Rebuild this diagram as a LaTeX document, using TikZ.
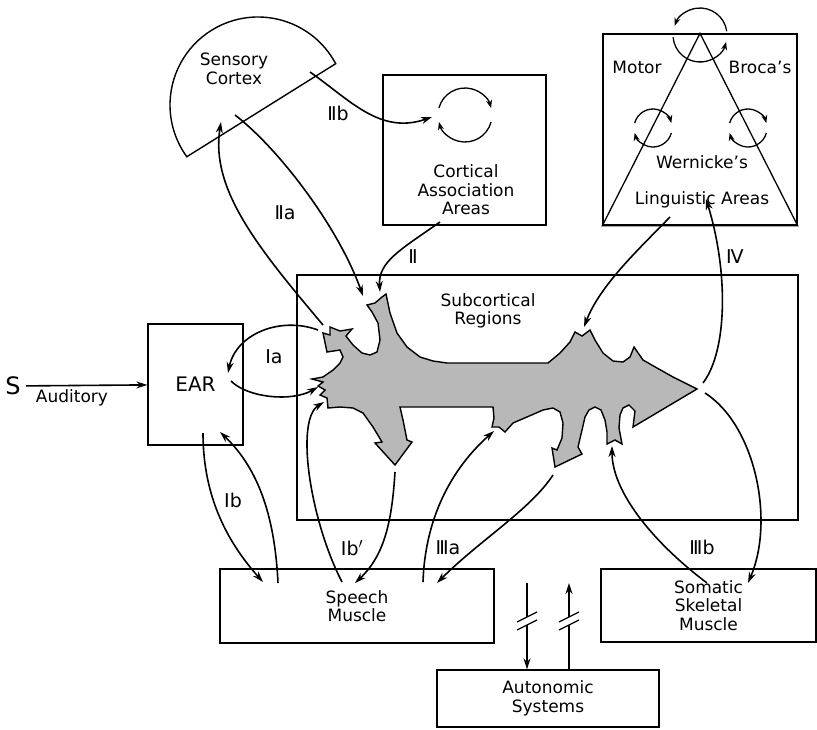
\documentclass[tikz,border=0pt]{standalone}
\usepackage{fontspec}
\setmainfont{DejaVu Sans}
\usetikzlibrary{arrows.meta}

\newcommand{\cwloop}[2]{%
  \draw[loopline] (#1) ++(-165:#2) arc[start angle=-165,end angle=-15,radius=#2];
  \draw[loopline] (#1) ++(15:#2) arc[start angle=15,end angle=165,radius=#2];}
\newcommand{\ccwloop}[2]{%
  \draw[loopline] (#1) ++(-8:#2) arc[start angle=-8,end angle=-160,radius=#2];
  \draw[loopline] (#1) ++(175:#2) arc[start angle=175,end angle=15,radius=#2];}

\begin{document}
\begin{tikzpicture}[x=1pt,y=-1pt,>={Stealth[length=11pt,width=7pt]},
    every node/.style={font=\fontsize{17}{18.5}\selectfont},
    box/.style={draw,line width=1.3pt,inner sep=0pt},
    link/.style={->,line width=1.6pt},
    loopline/.style={-{Stealth[length=8pt,width=6pt]},line width=1.3pt},
    blob/.style={draw,line width=1.4pt,fill=black!28,line join=miter},
    num/.style={font=\fontsize{19}{20}\selectfont}]
  \useasboundingbox (0,0) rectangle (817,729);

  \node[font=\fontsize{24}{26}\selectfont] (s) at (13,386) {S};
  \node (aud) at (72,398) {Auditory};
  \node[box,minimum width=95,minimum height=121] (ear) at (195.5,384.5) {\fontsize{20}{22}\selectfont EAR};
  \node[box,minimum width=274,minimum height=74,align=center] (speech) at (357,606) {Speech\\Muscle};
  \node[box,minimum width=222,minimum height=57,align=center] (auto) at (548,698.5) {Autonomic\\Systems};
  \node[box,minimum width=215,minimum height=73,align=center] (soma) at (708.5,605.5) {Somatic\\Skeletal\\Muscle};
  \node[box,minimum width=501,minimum height=245] (sub) at (547.5,397.5) {};
  \node[align=center] (subtxt) at (488,311) {Subcortical\\Regions};
  \node[box,minimum width=163,minimum height=150] (assoc) at (464.5,150) {};
  \node[align=center] (assoctxt) at (466,190) {Cortical\\Association\\Areas};
  \node[box,minimum width=194,minimum height=191] (ling) at (700,129.5) {};
  \draw[line width=1.3pt] (ling.north) -- (ling.south west) -- (ling.south east) -- cycle;
  \node (motor) at (637,67) {Motor};
  \node (broca) at (760,67) {Broca's};
  \node (wern) at (702,162) {Wernicke's};
  \node (lingtxt) at (702,200) {Linguistic Areas};

  \coordinate (scc) at (258,105);
  \draw[line width=1.4pt] (scc) ++(-28:88) arc[start angle=-28,end angle=-216,radius=88] -- cycle;
  \node[align=center] (sens) at (234,69) {Sensory\\Cortex};

  \coordinate (loopa) at (465,115);
  \coordinate (loopt) at (700,35);
  \coordinate (loopl) at (653,128);
  \coordinate (loopr) at (748,128);
  \cwloop{loopa}{27}
  \ccwloop{loopt}{27}
  \cwloop{loopl}{19}
  \cwloop{loopr}{19}

  \draw[blob] (386,294) -- (390,313) -- (397,333) -- (407,347) -- (420,357) -- (433,361)
    -- (447,363) -- (548,363) -- (560,353) -- (570,342) -- (575,332) -- (582,336) -- (590,330)
    -- (595,340) -- (603,353) -- (613,361) -- (623,362) -- (630,357) -- (634,347) -- (643,360)
    -- (657,368) -- (673,377) -- (697,389) -- (633,427) -- (635,411) -- (629,405) -- (623,408)
    -- (620,415) -- (619,428) -- (622,444) -- (615,440) -- (607,444) -- (607,432) -- (605,420)
    -- (601,410) -- (595,407) -- (589,410) -- (585,417) -- (582,430) -- (578,447) -- (582,454)
    -- (555,467) -- (552,448) -- (557,450) -- (562,438) -- (563,423) -- (560,412) -- (553,408)
    -- (543,410) -- (527,417) -- (513,423) -- (505,432) -- (499,427) -- (492,427) -- (494,418)
    -- (493,407) -- (400,407) -- (403,420) -- (407,440) -- (412,442) -- (395,465) -- (375,443)
    -- (382,442) -- (373,427) -- (363,413) -- (353,408) -- (340,407) -- (328,408) -- (327,398)
    -- (320,395) -- (325,390) -- (318,386) -- (323,382) -- (312,379) -- (323,377) -- (333,370)
    -- (340,363) -- (343,357) -- (340,350) -- (327,352) -- (323,333) -- (330,335) -- (330,327)
    -- (340,331) -- (352,329) -- (346,336) -- (353,345) -- (362,353) -- (370,355) -- (377,352)
    -- (380,340) -- (378,323) -- (372,312) -- (367,305) -- (375,303) -- (382,297) -- cycle;

  \draw[link,shorten <=2pt] (s) -- (ear);

  \coordinate (ia1s) at (318,330);   \coordinate (ia1e) at (228,373);
  \coordinate (ia2s) at (231,381);   \coordinate (ia2e) at (318,387);
  \coordinate (iia1s) at (323,325);  \coordinate (iia1e) at (221,122);
  \coordinate (iia2s) at (235,115);  \coordinate (iia2e) at (363,296);
  \coordinate (iibs) at (310,72);    \coordinate (iibe) at (432,117);
  \coordinate (iis) at (440,222);    \coordinate (iie) at (380,292);
  \coordinate (lds) at (670,217);    \coordinate (lde) at (584,327);
  \coordinate (ivs) at (703,383);    \coordinate (ive) at (706,199);
  \coordinate (iiib1s) at (707,583); \coordinate (iiib1e) at (612,446);
  \coordinate (iiib2s) at (705,393); \coordinate (iiib2e) at (748,583);
  \coordinate (ib1s) at (203,433);   \coordinate (ib1e) at (263,582);
  \coordinate (ib2s) at (278,583);   \coordinate (ib2e) at (220,432);
  \coordinate (ibp1s) at (342,582);  \coordinate (ibp1e) at (324,402);
  \coordinate (ibp2s) at (395,472);  \coordinate (ibp2e) at (355,583);
  \coordinate (iiia1s) at (423,582); \coordinate (iiia1e) at (494,431);
  \coordinate (iiia2s) at (553,475); \coordinate (iiia2e) at (437,583);

  \draw[link] (ia1s) .. controls (280,316) and (236,334) .. (ia1e);
  \draw[link] (ia2s) .. controls (248,398) and (292,402) .. (ia2e);
  \draw[link] (iia1s) .. controls (260,250) and (210,190) .. (iia1e);
  \draw[link] (iia2s) .. controls (278,148) and (338,226) .. (iia2e);
  \draw[link] (iibs) .. controls (350,100) and (380,135) .. (iibe);
  \draw[link] (iis) .. controls (400,250) and (378,262) .. (iie);
  \draw[link] (lds) .. controls (640,248) and (600,285) .. (lde);
  \draw[link] (ivs) .. controls (728,350) and (728,270) .. (ive);
  \draw[link] (iiib1s) .. controls (650,540) and (612,490) .. (iiib1e);
  \draw[link] (iiib2s) .. controls (755,425) and (775,520) .. (iiib2e);
  \draw[link] (ib1s) .. controls (203,500) and (230,545) .. (ib1e);
  \draw[link] (ib2s) .. controls (275,520) and (260,470) .. (ib2e);
  \draw[link] (ibp1s) .. controls (310,520) and (295,420) .. (ibp1e);
  \draw[link] (ibp2s) .. controls (392,520) and (385,555) .. (ibp2e);
  \draw[link] (iiia1s) .. controls (425,520) and (450,470) .. (iiia1e);
  \draw[link] (iiia2s) .. controls (530,510) and (480,540) .. (iiia2e);

  \coordinate (ad) at (527,583);
  \coordinate (au) at (569,583);
  \draw[line width=1.6pt] (ad) -- ([yshift=-34pt]ad);
  \draw[link] ([yshift=-42pt]ad) -- (ad |- auto.north);
  \draw[line width=1.6pt] (au |- auto.north) -- ([yshift=-42pt]au);
  \draw[link] ([yshift=-34pt]au) -- (au);
  \foreach \p in {ad,au}{
    \draw[line width=1.2pt] (\p) ++(-10,39) -- ++(20,-10);
    \draw[line width=1.2pt] (\p) ++(-10,47) -- ++(20,-10);
  }

  \node[num] (ia) at (274,357) {Ⅰa};
  \node[num] (ib) at (233,500) {Ⅰb};
  \node[num] (ibp) at (352,548) {Ⅰb$'$};
  \node[num] (iia) at (285,213) {Ⅱa};
  \node[num] (iib) at (338,113) {Ⅱb};
  \node[num] (ii) at (413,257) {Ⅱ};
  \node[num] (iiia) at (448,548) {Ⅲa};
  \node[num] (iiib) at (702,547) {Ⅲb};
  \node[num] (iv) at (735,257) {Ⅳ};
\end{tikzpicture}
\end{document}
